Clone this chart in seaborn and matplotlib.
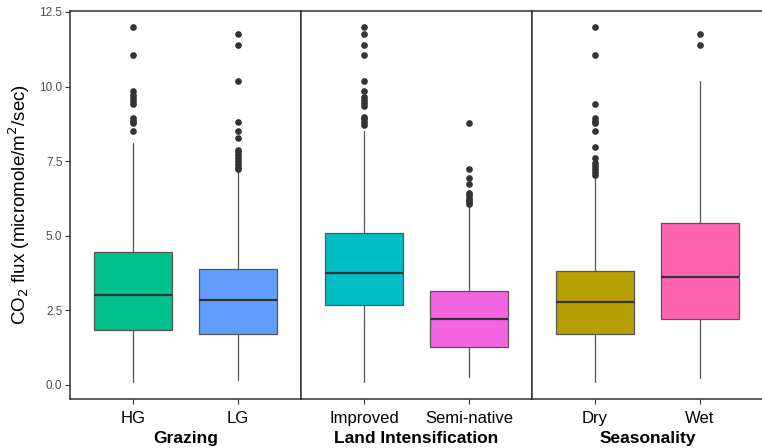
import matplotlib
matplotlib.use('Agg')
import matplotlib.pyplot as plt
import seaborn as sns

# box statistics (CO2 flux, micromole/m2/sec)
groups = ['Grazing', 'Land Intensification', 'Seasonality']
levels = [['HG', 'LG'], ['Improved', 'Semi-native'], ['Dry', 'Wet']]
colors = ['#00C08D', '#619CFF', '#00BFC4', '#F564E3', '#B79F00', '#FF64B0']

q1 = [1.84, 1.70, 2.68, 1.26, 1.70, 2.20]
med = [3.02, 2.84, 3.76, 2.20, 2.77, 3.61]
q3 = [4.47, 3.90, 5.10, 3.16, 3.83, 5.42]
whislo = [0.10, 0.17, 0.10, 0.27, 0.10, 0.22]
whishi = [8.12, 7.20, 8.51, 5.98, 7.00, 10.20]
fliers = [
    [12.0, 11.05, 9.84, 9.7, 9.6, 9.5, 9.4, 8.95, 8.85, 8.78, 8.51],
    [11.75, 11.39, 10.2, 8.8, 8.51, 8.28, 7.88, 7.8, 7.7, 7.6, 7.5, 7.4, 7.3, 7.25],
    [12.0, 11.75, 11.39, 11.05, 10.2, 9.84, 9.66, 9.55, 9.45, 9.35, 8.98, 8.9, 8.8, 8.71],
    [8.78, 7.23, 6.95, 6.72, 6.43, 6.35, 6.28, 6.2, 6.12, 6.05],
    [12.0, 11.05, 9.41, 8.94, 8.85, 8.78, 8.5, 7.99, 7.62, 7.44, 7.35, 7.25, 7.15, 7.05],
    [11.75, 11.39],
]

sns.set_theme(style='ticks')
plt.rcParams['font.family'] = ['Liberation Sans', 'DejaVu Sans']

fig, axes = plt.subplots(1, 3, figsize=(7.62, 4.48), dpi=100, sharey=True)
fig.subplots_adjust(left=70 / 762, right=(70 + 3 * 231) / 762,
                    bottom=1 - 399 / 448, top=1 - 11 / 448, wspace=0)

for i, ax in enumerate(axes):
    stats = []
    for j in range(2):
        k = 2 * i + j
        stats.append(dict(med=med[k], q1=q1[k], q3=q3[k], whislo=whislo[k],
                          whishi=whishi[k], fliers=fliers[k], label=levels[i][j]))
    bp = ax.bxp(stats, positions=[1, 2], widths=0.75, patch_artist=True,
                showcaps=False,
                boxprops=dict(edgecolor='#555555', linewidth=0.9),
                medianprops=dict(color='#333333', linewidth=1.6),
                whiskerprops=dict(color='#555555', linewidth=0.9),
                flierprops=dict(marker='o', markerfacecolor='#333333',
                                markeredgecolor='#333333', markersize=3.8))
    for j, patch in enumerate(bp['boxes']):
        patch.set_facecolor(colors[2 * i + j])
    ax.set_xlim(0.4, 2.6)
    ax.set_ylim(-0.47, 12.53)
    ax.set_xticks([1, 2])
    ax.set_xticklabels(levels[i], fontsize=12, color='black')
    ax.set_xlabel(groups[i], fontsize=12.5, fontweight='bold', labelpad=4,
                  color='black')
    for sp in ax.spines.values():
        sp.set_visible(True)
        sp.set_color('#333333')
        sp.set_linewidth(1.1)
    ax.tick_params(axis='x', length=3.5, width=0.8, color='#333333', pad=5)
    if i == 0:
        ax.set_yticks([0, 2.5, 5, 7.5, 10, 12.5])
        ax.set_yticklabels(['0.0', '2.5', '5.0', '7.5', '10.0', '12.5'])
        ax.tick_params(axis='y', length=3.5, width=0.8, color='#333333',
                       labelsize=8.5, labelcolor='#4D4D4D', pad=2)
        ax.set_ylabel('CO$_2$ flux (micromole/m$^2$/sec)', fontsize=13.5,
                      labelpad=5, color='black')
    else:
        ax.tick_params(axis='y', left=False)
    ax.grid(False)

# the right border falls outside the picture in the original
axes[2].spines['right'].set_visible(False)

fig.savefig('out.png', dpi=100)
